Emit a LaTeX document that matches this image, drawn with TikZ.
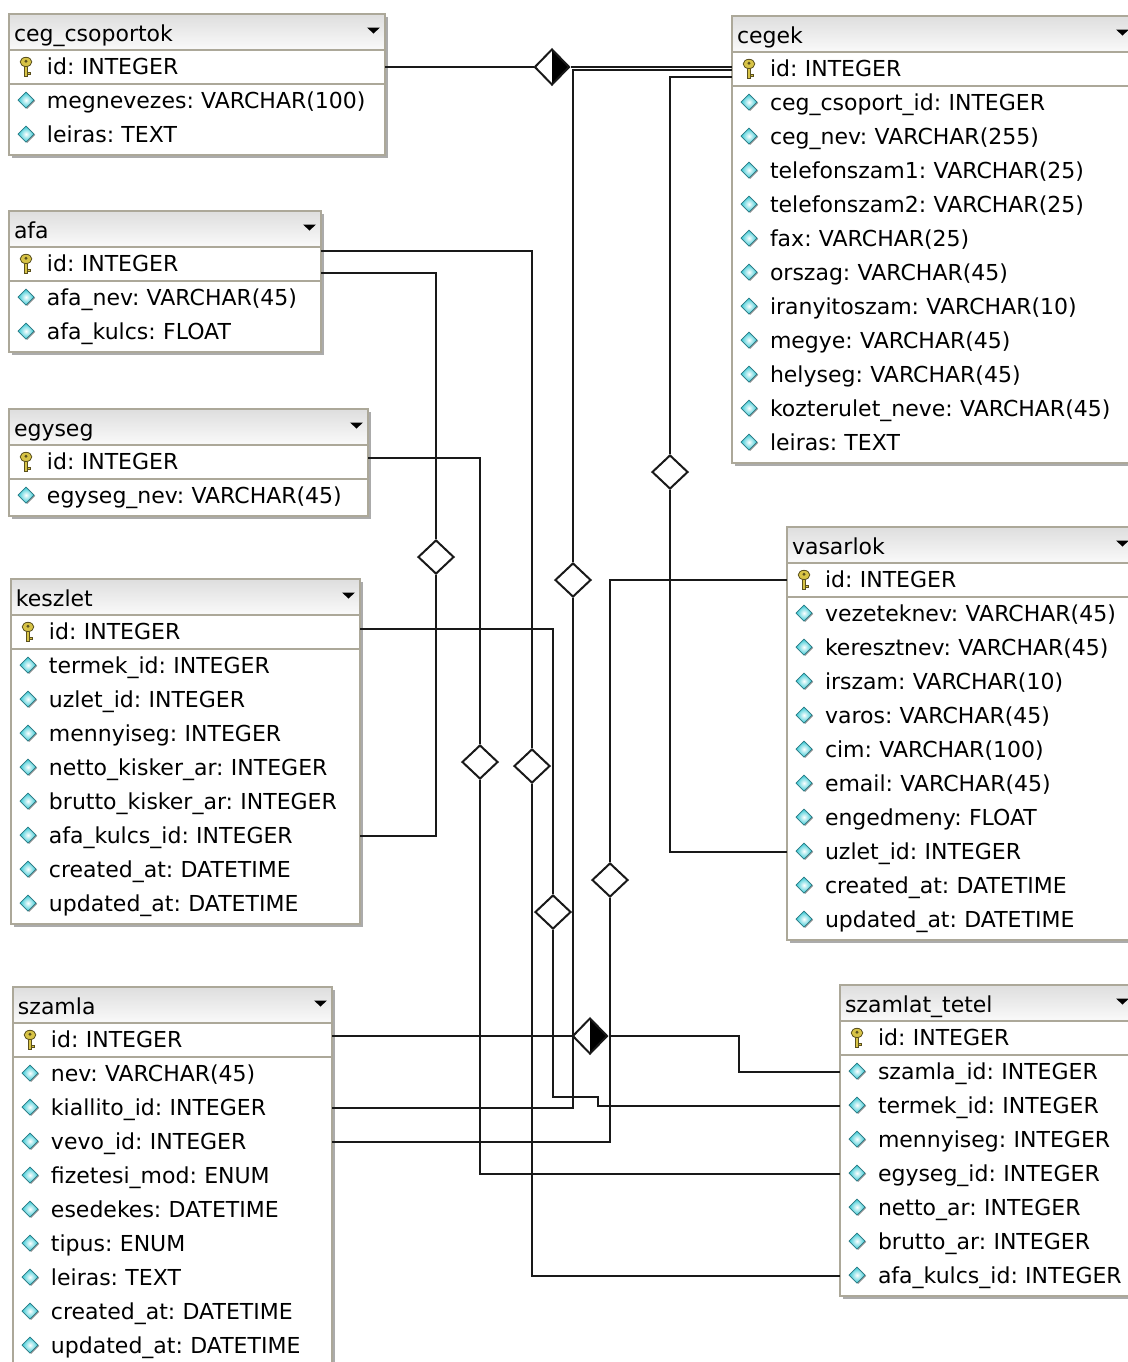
\documentclass[tikz,border=0pt]{standalone}
\usepackage{fontspec}
\setmainfont{DejaVu Sans}
\usetikzlibrary{positioning,shapes.geometric,fit,calc,backgrounds,shadows}

\definecolor{tblline}{RGB}{172,168,153}
\definecolor{fldcyan}{RGB}{50,200,212}
\definecolor{fldedge}{RGB}{40,120,130}
\definecolor{keygold}{RGB}{215,195,70}
\definecolor{keydark}{RGB}{90,80,30}

% small icons used inside the table rows
\newcommand{\fldicon}{\tikz[x=1pt,y=1pt,baseline=0pt]{%
  \useasboundingbox (0,-2) rectangle (16.5,9);
  \fill[black!40] (6.6,-0.2) -- (10.6,3.8) -- (6.6,7.8) -- (2.6,3.8) -- cycle;
  \shade[inner color=white, outer color=fldcyan, draw=fldedge, line width=0.3pt]
    (6,0.2) -- (10,4.2) -- (6,8.2) -- (2,4.2) -- cycle;}}
\newcommand{\keyicon}{\tikz[x=1pt,y=1pt,baseline=0pt]{%
  \useasboundingbox (0,-2) rectangle (16.5,9);
  \filldraw[fill=keygold, draw=keydark, line width=0.4pt] (5.2,-0.8) rectangle (6.8,5);
  \filldraw[fill=keygold, draw=keydark, line width=0.4pt] (6.8,0) rectangle (8,1.3);
  \filldraw[fill=keygold, draw=keydark, line width=0.4pt] (6,6.3) ellipse (2.9 and 2.3);
  \fill[keydark] (6,6.6) circle (0.8);}}
\newcommand{\dropicon}{\tikz[x=1pt,y=1pt,baseline=0pt]\fill[black] (0,7) -- (6.5,7) -- (3.25,4) -- cycle;}

\begin{document}
\begin{tikzpicture}[x=0.5pt, y=-0.5pt,
    every node/.style={font=\fontsize{11}{13}\selectfont\frenchspacing},
    tblhead/.style={anchor=north west, draw=tblline, line width=1pt, outer sep=0pt,
        top color=black!13, bottom color=black!2, minimum height=18pt,
        inner xsep=2.5pt, inner ysep=0pt, text height=11.5pt, text depth=2pt},
    tblkey/.style={draw=tblline, line width=1pt, fill=white, minimum height=17pt,
        outer sep=0pt, inner xsep=2.5pt, inner ysep=0pt, text height=9.5pt, text depth=2pt},
    tblrow/.style={minimum height=17pt, outer sep=0pt, inner xsep=2.5pt, inner ysep=0pt,
        text height=9.5pt, text depth=2pt},
    tblframe/.style={draw=tblline, line width=1pt, fill=white, inner sep=0pt,
        drop shadow={shadow xshift=1.5pt, shadow yshift=-1.5pt, fill=black!60, opacity=0.55}},
    rel/.style={draw=black!90, line width=1pt},
    agg/.style={shape=diamond, draw=black!90, line width=1pt, fill=white,
        minimum width=18pt, minimum height=17pt, inner sep=0pt},
    comp/.style={agg, minimum width=17.5pt, minimum height=18pt,
        path picture={\fill[black] (path picture bounding box.north)
            -- (path picture bounding box.east) -- (path picture bounding box.south) -- cycle;}}
]
\useasboundingbox (0,0) rectangle (1128,1362);
\clip (0,0) rectangle (1128,1362);

% ceg_csoportok
\begin{scope}[every node/.append style={text width=183pt}]
\node[tblhead] (cso-h) at (9,14) {ceg\_csoportok\hfill\dropicon};
\node[tblkey, below=0pt of cso-h] (cso-0) {\keyicon\mbox{id: INTEGER}};
\foreach \f [count=\i, remember=\i as \j (initially 0)] in
    {megnevezes: VARCHAR(100), leiras: TEXT}
  \node[tblrow, below=0pt of cso-\j] (cso-\i) {\fldicon\mbox{\f}};
\end{scope}

% cegek
\begin{scope}[every node/.append style={text width=196pt}]
\node[tblhead] (cegek-h) at (732,16) {cegek\hfill\dropicon};
\node[tblkey, below=0pt of cegek-h] (cegek-0) {\keyicon\mbox{id: INTEGER}};
\foreach \f [count=\i, remember=\i as \j (initially 0)] in
    {ceg\_csoport\_id: INTEGER, ceg\_nev: VARCHAR(255), telefonszam1: VARCHAR(25),
     telefonszam2: VARCHAR(25), fax: VARCHAR(25), orszag: VARCHAR(45),
     iranyitoszam: VARCHAR(10), megye: VARCHAR(45), helyseg: VARCHAR(45),
     kozterulet\_neve: VARCHAR(45), leiras: TEXT}
  \node[tblrow, below=0pt of cegek-\j] (cegek-\i) {\fldicon\mbox{\f}};
\end{scope}

% afa
\begin{scope}[every node/.append style={text width=151pt}]
\node[tblhead] (afa-h) at (9,211) {afa\hfill\dropicon};
\node[tblkey, below=0pt of afa-h] (afa-0) {\keyicon\mbox{id: INTEGER}};
\foreach \f [count=\i, remember=\i as \j (initially 0)] in
    {afa\_nev: VARCHAR(45), afa\_kulcs: FLOAT}
  \node[tblrow, below=0pt of afa-\j] (afa-\i) {\fldicon\mbox{\f}};
\end{scope}

% egyseg
\begin{scope}[every node/.append style={text width=174.5pt}]
\node[tblhead] (egyseg-h) at (9,409) {egyseg\hfill\dropicon};
\node[tblkey, below=0pt of egyseg-h] (egyseg-0) {\keyicon\mbox{id: INTEGER}};
\node[tblrow, below=0pt of egyseg-0] (egyseg-1) {\fldicon\mbox{egyseg\_nev: VARCHAR(45)}};
\end{scope}

% keszlet
\begin{scope}[every node/.append style={text width=169.5pt}]
\node[tblhead] (keszlet-h) at (11,579) {keszlet\hfill\dropicon};
\node[tblkey, below=0pt of keszlet-h] (keszlet-0) {\keyicon\mbox{id: INTEGER}};
\foreach \f [count=\i, remember=\i as \j (initially 0)] in
    {termek\_id: INTEGER, uzlet\_id: INTEGER, mennyiseg: INTEGER,
     netto\_kisker\_ar: INTEGER, brutto\_kisker\_ar: INTEGER, afa\_kulcs\_id: INTEGER,
     created\_at: DATETIME, updated\_at: DATETIME}
  \node[tblrow, below=0pt of keszlet-\j] (keszlet-\i) {\fldicon\mbox{\f}};
\end{scope}

% vasarlok
\begin{scope}[every node/.append style={text width=168.5pt}]
\node[tblhead] (vasarlok-h) at (787,527) {vasarlok\hfill\dropicon};
\node[tblkey, below=0pt of vasarlok-h] (vasarlok-0) {\keyicon\mbox{id: INTEGER}};
\foreach \f [count=\i, remember=\i as \j (initially 0)] in
    {vezeteknev: VARCHAR(45), keresztnev: VARCHAR(45), irszam: VARCHAR(10),
     varos: VARCHAR(45), cim: VARCHAR(100), email: VARCHAR(45), engedmeny: FLOAT,
     uzlet\_id: INTEGER, created\_at: DATETIME, updated\_at: DATETIME}
  \node[tblrow, below=0pt of vasarlok-\j] (vasarlok-\i) {\fldicon\mbox{\f}};
\end{scope}

% szamla
\begin{scope}[every node/.append style={text width=154.5pt}]
\node[tblhead] (szamla-h) at (13,987) {szamla\hfill\dropicon};
\node[tblkey, below=0pt of szamla-h] (szamla-0) {\keyicon\mbox{id: INTEGER}};
\foreach \f [count=\i, remember=\i as \j (initially 0)] in
    {nev: VARCHAR(45), kiallito\_id: INTEGER, vevo\_id: INTEGER, fizetesi\_mod: ENUM,
     esedekes: DATETIME, tipus: ENUM, leiras: TEXT, created\_at: DATETIME,
     updated\_at: DATETIME}
  \node[tblrow, below=0pt of szamla-\j] (szamla-\i) {\fldicon\mbox{\f}};
\end{scope}

% szamlat_tetel
\begin{scope}[every node/.append style={text width=142pt}]
\node[tblhead] (tetel-h) at (840,985) {szamlat\_tetel\hfill\dropicon};
\node[tblkey, below=0pt of tetel-h] (tetel-0) {\keyicon\mbox{id: INTEGER}};
\foreach \f [count=\i, remember=\i as \j (initially 0)] in
    {szamla\_id: INTEGER, termek\_id: INTEGER, mennyiseg: INTEGER, egyseg\_id: INTEGER,
     netto\_ar: INTEGER, brutto\_ar: INTEGER, afa\_kulcs\_id: INTEGER}
  \node[tblrow, below=0pt of tetel-\j] (tetel-\i) {\fldicon\mbox{\f}};
\end{scope}

% relation markers
\node[comp] (cmp-cegek) at (552,67) {};
\node[comp] (cmp-tetel) at (590,1036) {};
\node[agg] (d-kiallito) at (573,580) {};
\node[agg] (d-uzlet) at (670,472) {};
\node[agg] (d-kafa) at (436,557) {};
\node[agg] (d-tafa) at (532,766) {};
\node[agg] (d-egyseg) at (480,762) {};
\node[agg] (d-termek) at (553,912) {};
\node[agg] (d-vevo) at (610,880) {};

% ceg_csoportok -- cegek
\draw[rel] (cso-0.east |- cmp-cegek) -- (cmp-cegek.west);
\draw[rel] (cmp-cegek.east) -- (cmp-cegek -| cegek-0.west);
% szamla.kiallito_id -- cegek.id
\draw[rel] (szamla-2.east) -| (d-kiallito.south);
\draw[rel] (d-kiallito.north) |- ($(cegek-0.west)+(0,1)$);
% vasarlok.uzlet_id -- cegek.id
\draw[rel] (vasarlok-8.west) -| (d-uzlet.south);
\draw[rel] (d-uzlet.north) |- ($(cegek-0.west)+(0,8)$);
% keszlet.afa_kulcs_id -- afa.id
\draw[rel] (keszlet-6.east) -| (d-kafa.south);
\draw[rel] (d-kafa.north) |- ($(afa-0.east)+(0,9)$);
% szamlat_tetel.afa_kulcs_id -- afa.id
\draw[rel] (tetel-7.west) -| (d-tafa.south);
\draw[rel] (d-tafa.north) |- ($(afa-0.east)+(0,-13)$);
% szamlat_tetel.egyseg_id -- egyseg.id
\draw[rel] (tetel-4.west) -| (d-egyseg.south);
\draw[rel] (d-egyseg.north) |- ($(egyseg-0.east)+(0,-4)$);
% szamlat_tetel.termek_id -- keszlet.id
\draw[rel] (tetel-2.west) -- ++(-242,0) -- ++(0,-9) -| (d-termek.south);
\draw[rel] (d-termek.north) |- ($(keszlet-0.east)+(0,-3)$);
% szamla.vevo_id -- vasarlok.id
\draw[rel] (szamla-3.east) -| (d-vevo.south);
\draw[rel] (d-vevo.north) |- (vasarlok-0.west);
% szamla -- szamlat_tetel
\draw[rel] (szamla-0.east |- cmp-tetel) -- (cmp-tetel.west);
\draw[rel] (cmp-tetel.east) -- ++(130,0) |- (tetel-1.west);

% table frames behind the rows
\begin{scope}[on background layer]
\clip (0,0) rectangle (1128,1362);
\node[tblframe, fit={(cso-h) ($(cso-2.south)+(0,3)$)}] (cso-frame) {};
\node[tblframe, fit={(cegek-h) ($(cegek-11.south)+(0,3)$)}] (cegek-frame) {};
\node[tblframe, fit={(afa-h) ($(afa-2.south)+(0,3)$)}] (afa-frame) {};
\node[tblframe, fit={(egyseg-h) ($(egyseg-1.south)+(0,3)$)}] (egyseg-frame) {};
\node[tblframe, fit={(keszlet-h) ($(keszlet-8.south)+(0,3)$)}] (keszlet-frame) {};
\node[tblframe, fit={(vasarlok-h) ($(vasarlok-10.south)+(0,3)$)}] (vasarlok-frame) {};
\node[tblframe, fit={(szamla-h) ($(szamla-9.south)+(0,3)$)}] (szamla-frame) {};
\node[tblframe, fit={(tetel-h) ($(tetel-7.south)+(0,3)$)}] (tetel-frame) {};
\end{scope}
\end{tikzpicture}
\end{document}
